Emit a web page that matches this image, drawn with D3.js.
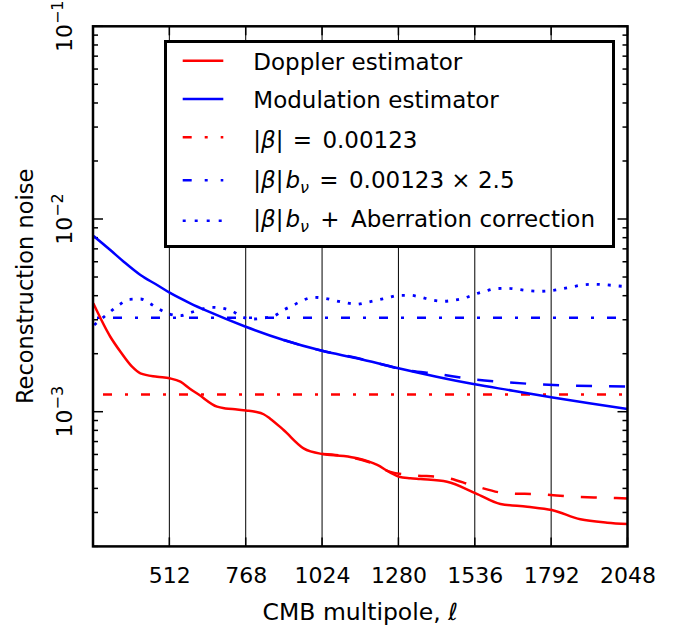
<!DOCTYPE html>
<html><head><meta charset="utf-8">
<script src="https://cdn.jsdelivr.net/npm/d3@7"></script>
<style>
body{margin:0;background:#fff}
text{font-family:"DejaVu Sans",sans-serif;fill:#000;white-space:pre}
</style>
</head><body>
<svg id="c" width="683" height="630"></svg>
<script>
// ---------------- data ----------------
const xTickValues = [512, 768, 1024, 1280, 1536, 1792, 2048];
const yMajorValues = [1e-1, 1e-2, 1e-3];
const yMajorExps = ["−1", "−2", "−3"];

const dopplerL = [257,314,348,387,415,471,513,549,582,609,672,700,739,769,800,828,850,895,962,1025,1097,1141,1209,1253,1282,1320,1354,1443,1539,1622,1712,1794,1890,1980,2048];
const dopplerV = [3.652e-3,2.449e-3,2.048e-3,1.712e-3,1.582e-3,1.519e-3,1.490e-3,1.431e-3,1.311e-3,1.231e-3,1.062e-3,1.040e-3,1.027e-3,1.014e-3,0.999e-3,0.97e-3,0.92e-3,0.8036e-3,0.6457e-3,0.6032e-3,0.5889e-3,0.5730e-3,0.5290e-3,0.4826e-3,0.4600e-3,0.452e-3,0.4475e-3,0.4332e-3,0.3771e-3,0.3319e-3,0.3214e-3,0.309e-3,0.2764e-3,0.2655e-3,0.2614e-3];

const dopplerDashL = [1025,1097,1180,1253,1317,1433,1536,1644,1756,1864,1974,2048];
const dopplerDashV = [0.6032e-3,0.5889e-3,0.548e-3,0.487e-3,0.4694e-3,0.4566e-3,0.4115e-3,0.3771e-3,0.3726e-3,0.3622e-3,0.3579e-3,0.355e-3];

const modL = [258,314,359,415,471,513,582,644,768,895,1024,1141,1280,1408,1536,1664,1792,1920,2048];
const modV = [8.16e-3,6.903e-3,6.004e-3,5.122e-3,4.545e-3,4.145e-3,3.652e-3,3.304e-3,2.76e-3,2.355e-3,2.07e-3,1.893e-3,1.68e-3,1.519e-3,1.387e-3,1.285e-3,1.188e-3,1.105e-3,1.033e-3];

const modDashL = [895,1024,1141,1306,1412,1522,1630,1750,1860,1970,2048];
const modDashV = [2.355e-3,2.07e-3,1.90e-3,1.645e-3,1.569e-3,1.478e-3,1.426e-3,1.387e-3,1.365e-3,1.355e-3,1.35e-3];

const aberL = [260,314,348,379,415,446,478,512,549,582,622,653,691,724,758,795,828,865,895,929,962,996,1033,1069,1102,1139,1175,1211,1247,1283,1320,1356,1391,1429,1465,1499,1535,1570,1605,1642,1678,1715,1752,1788,1824,1860,1896,1933,1970,2008,2045];
const aberV = [2.818e-3,3.304e-3,3.622e-3,3.832e-3,3.845e-3,3.652e-3,3.400e-3,3.214e-3,3.150e-3,3.265e-3,3.412e-3,3.482e-3,3.441e-3,3.319e-3,3.090e-3,3.028e-3,3.064e-3,3.150e-3,3.372e-3,3.579e-3,3.800e-3,3.924e-3,3.878e-3,3.767e-3,3.678e-3,3.609e-3,3.696e-3,3.800e-3,3.914e-3,4.018e-3,4.018e-3,3.924e-3,3.800e-3,3.741e-3,3.786e-3,3.878e-3,4.067e-3,4.215e-3,4.348e-3,4.369e-3,4.317e-3,4.245e-3,4.215e-3,4.245e-3,4.332e-3,4.437e-3,4.545e-3,4.583e-3,4.562e-3,4.507e-3,4.454e-3];

const betaLevel = 0.00123;
const betaBnuLevel = 0.00123 * 2.5;
const levelL = [256, 2048];

// ---------------- layout ----------------
const svg = d3.select("#c");
const L = 93, R = 627.5, T = 26.3, B = 546.4;
const x = d3.scaleLinear().domain([256, 2048]).range([L, R]);
const y = d3.scaleLog().domain([2e-4, 1e-1]).range([B, T]);
const RED = "#ff0000", BLUE = "#0000ff";

svg.append("defs").append("clipPath").attr("id", "clip")
  .append("rect").attr("x", L).attr("y", T).attr("width", R - L).attr("height", B - T);

// gridlines
svg.append("g").selectAll("line").data(xTickValues.filter(v => v < 2048)).join("line")
  .attr("x1", d => x(d)).attr("x2", d => x(d)).attr("y1", T).attr("y2", B)
  .attr("stroke", "#000").attr("stroke-width", 1);

// x ticks (inside, bottom and top)
const xt = svg.append("g");
xTickValues.forEach(v => {
  xt.append("line").attr("x1", x(v)).attr("x2", x(v)).attr("y1", B).attr("y2", B - 9).attr("stroke", "#000").attr("stroke-width", 1.5);
  xt.append("line").attr("x1", x(v)).attr("x2", x(v)).attr("y1", T).attr("y2", T + 9).attr("stroke", "#000").attr("stroke-width", 1.5);
});

// y ticks
const yt = svg.append("g");
y.ticks().forEach(v => {
  const lg = Math.log10(v);
  const major = Math.abs(lg - Math.round(lg)) < 1e-6;
  const len = major ? 10 : 5;
  const yy = y(v);
  if (yy < T - 0.5 || yy > B + 0.5) return;
  yt.append("line").attr("x1", L).attr("x2", L + len).attr("y1", yy).attr("y2", yy).attr("stroke", "#000").attr("stroke-width", 1.5);
  yt.append("line").attr("x1", R).attr("x2", R - len).attr("y1", yy).attr("y2", yy).attr("stroke", "#000").attr("stroke-width", 1.5);
});

// curves
const line = d3.line().x(d => x(d[0])).y(d => y(d[1])).curve(d3.curveMonotoneX);
const zip = (a, b) => a.map((v, i) => [v, b[i]]);
const plot = svg.append("g").attr("clip-path", "url(#clip)");

plot.append("path").attr("d", line(zip(levelL, [betaLevel, betaLevel])))
  .attr("fill", "none").attr("stroke", RED).attr("stroke-width", 2.5).attr("stroke-dasharray", "9,13,3,13").attr("stroke-dashoffset", -10);
plot.append("path").attr("d", line(zip(levelL, [betaBnuLevel, betaBnuLevel])))
  .attr("fill", "none").attr("stroke", BLUE).attr("stroke-width", 2.5).attr("stroke-dasharray", "9,13,3,13").attr("stroke-dashoffset", 18);
plot.append("path").attr("d", line(zip(aberL, aberV)))
  .attr("fill", "none").attr("stroke", BLUE).attr("stroke-width", 2.8).attr("stroke-dasharray", "3,8");
plot.append("path").attr("d", line(zip(modL, modV)))
  .attr("fill", "none").attr("stroke", BLUE).attr("stroke-width", 2.5);
plot.append("path").attr("d", line(zip(modDashL, modDashV)))
  .attr("fill", "none").attr("stroke", BLUE).attr("stroke-width", 2.5).attr("stroke-dasharray", "16,17");
plot.append("path").attr("d", line(zip(dopplerL, dopplerV)))
  .attr("fill", "none").attr("stroke", RED).attr("stroke-width", 2.5);
plot.append("path").attr("d", line(zip(dopplerDashL, dopplerDashV)))
  .attr("fill", "none").attr("stroke", RED).attr("stroke-width", 2.5).attr("stroke-dasharray", "16,17");

// frame
svg.append("rect").attr("x", L).attr("y", T).attr("width", R - L).attr("height", B - T)
  .attr("fill", "none").attr("stroke", "#000").attr("stroke-width", 2.5);

// x tick labels via axis
const xa = svg.append("g").attr("transform", `translate(0,${583.3})`)
  .call(d3.axisBottom(x).tickValues(xTickValues).tickSize(0).tickFormat(d3.format("d")));
xa.select(".domain").remove();
xa.selectAll("text").attr("y", 0).attr("dy", null)
  .style("font-family", "DejaVu Sans").style("font-size", "22px").attr("fill", "#000");

// y tick labels (rotated, with superscripts)
yMajorValues.forEach((v, i) => {
  const t = svg.append("text").attr("transform", `translate(72,${y(v)}) rotate(-90)`)
    .attr("text-anchor", "middle").style("font-size", "22px");
  t.append("tspan").text("10");
  t.append("tspan").attr("dy", -9).style("font-size", "16px").text(yMajorExps[i]);
});

// axis titles
const xtitle = svg.append("text").attr("x", (L + R) / 2).attr("y", 620).attr("text-anchor", "middle")
  .style("font-size", "23.5px");
xtitle.append("tspan").text("CMB multipole, ");
xtitle.append("tspan").style("font-style", "italic").text("ℓ");
svg.append("text").attr("transform", `translate(33,${(T + B) / 2}) rotate(-90)`)
  .attr("text-anchor", "middle").style("font-size", "22.5px").text("Reconstruction noise");

// legend
const lg = svg.append("g");
lg.append("rect").attr("x", 165.5).attr("y", 41.5).attr("width", 448).attr("height", 205)
  .attr("fill", "#fff").attr("stroke", "#000").attr("stroke-width", 3);
const rowsY = [60.7, 99, 137.3, 180.3, 220.7];
const baseY = [69.5, 107.5, 147.5, 187.5, 227];
const styles = [
  {c: RED, d: null}, {c: BLUE, d: null}, {c: RED, d: "9,13,3,13"}, {c: BLUE, d: "9,13,3,13"}, {c: BLUE, d: "3,9"}
];
styles.forEach((s, i) => {
  lg.append("line").attr("x1", 182.7).attr("x2", 223.3).attr("y1", rowsY[i]).attr("y2", rowsY[i])
    .attr("stroke", s.c).attr("stroke-width", 2.5).attr("stroke-dasharray", s.d);
});
const tx = 253.3;
function ltext(i) {
  return lg.append("text").attr("x", tx).attr("y", baseY[i]).style("font-size", "23px");
}
ltext(0).text("Doppler estimator");
ltext(1).text("Modulation estimator");
function absBeta(t) {
  t.append("tspan").text("|");
  t.append("tspan").style("font-style", "italic").text("β");
  t.append("tspan").text("|");
}
function bnu(t) {
  t.append("tspan").attr("dx", 2).style("font-style", "italic").text("b");
  t.append("tspan").attr("dy", 5).style("font-style", "italic").style("font-size", "16px").text("ν");
}
let t2 = ltext(2); absBeta(t2);
t2.append("tspan").attr("dx", 2).text(" =");
t2.append("tspan").attr("dx", 3).text(" 0.00123");
let t3 = ltext(3); absBeta(t3); bnu(t3);
t3.append("tspan").attr("dy", -5).attr("dx", 3).text(" =");
t3.append("tspan").attr("dx", 3).text(" 0.00123 × 2.5");
let t4 = ltext(4); absBeta(t4); bnu(t4);
t4.append("tspan").attr("dy", -5).attr("dx", 4).text(" +");
t4.append("tspan").attr("dx", 4).text(" Aberration correction");
</script>
</body></html>
